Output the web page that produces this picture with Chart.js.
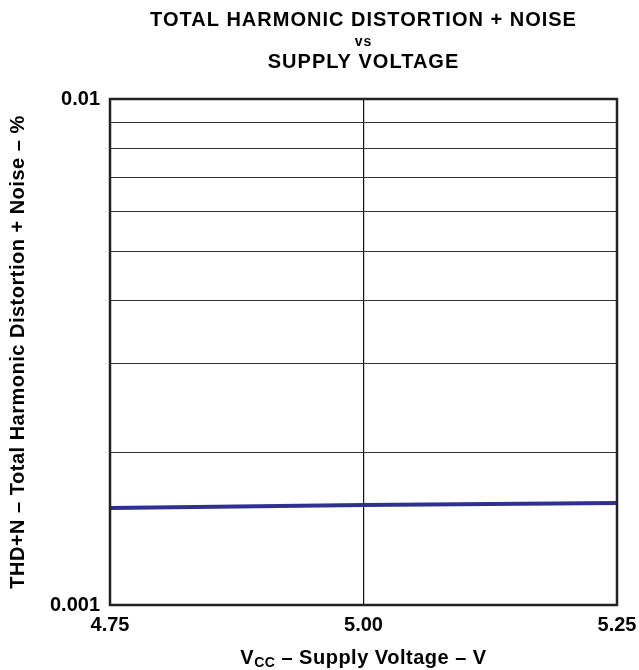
<!DOCTYPE html>
<html>
<head>
<meta charset="utf-8">
<script src="https://cdn.jsdelivr.net/npm/chart.js@4.4.1/dist/chart.umd.min.js"></script>
<style>
  html, body { margin: 0; padding: 0; background: #fff; }
  #wrap { width: 639px; height: 670px; }
</style>
</head>
<body>
<div id="wrap"><canvas id="myChart" width="639" height="670"></canvas></div>
<script>
const voltages = [4.75, 5.00, 5.25];
const thdNoise = [0.001555, 0.001576, 0.00159];
const xTicks = [4.75, 5.00, 5.25];
const yGridLines = [0.001, 0.002, 0.003, 0.004, 0.005, 0.006, 0.007, 0.008, 0.009, 0.01];
const yTickLabels = [0.001, 0.01];
const titleLines = ['TOTAL HARMONIC DISTORTION + NOISE', 'vs', 'SUPPLY VOLTAGE'];

const FONT = '"Liberation Sans", Arial, Helvetica, sans-serif';

// frame, titles and the subscripted x label
const decor = {
  id: 'decor',
  afterDraw(chart) {
    const { ctx, chartArea: a } = chart;
    const cx = (a.left + a.right) / 2;
    ctx.save();
    ctx.strokeStyle = '#222';
    ctx.lineWidth = 2.5;
    ctx.strokeRect(a.left, a.top, a.right - a.left, a.bottom - a.top);

    ctx.fillStyle = '#000';
    ctx.textAlign = 'center';
    ctx.textBaseline = 'middle';
    ctx.letterSpacing = '1px';
    ctx.font = 'bold 20px ' + FONT;
    ctx.fillText(titleLines[0], cx, 20);
    ctx.font = 'bold 14px ' + FONT;
    ctx.fillText(titleLines[1], cx, 42);
    ctx.font = 'bold 20px ' + FONT;
    ctx.fillText(titleLines[2], cx, 62);

    // x title: V_CC – Supply Voltage – V
    ctx.letterSpacing = '0.5px';
    const y = 658;
    ctx.textAlign = 'left';
    ctx.font = 'bold 20px ' + FONT;
    const wV = ctx.measureText('V').width;
    const rest = ' \u2013 Supply Voltage \u2013 V';
    const wRest = ctx.measureText(rest).width;
    ctx.font = 'bold 14px ' + FONT;
    const wSub = ctx.measureText('CC').width;
    let x = cx - (wV + wSub + wRest) / 2;
    ctx.font = 'bold 20px ' + FONT;
    ctx.fillText('V', x, y);
    ctx.font = 'bold 14px ' + FONT;
    ctx.fillText('CC', x + wV, y + 5);
    ctx.font = 'bold 20px ' + FONT;
    ctx.fillText(rest, x + wV + wSub, y);

    // y title
    ctx.translate(18, (a.top + a.bottom) / 2);
    ctx.rotate(-Math.PI / 2);
    ctx.textAlign = 'center';
    ctx.fillText('THD+N \u2013 Total Harmonic Distortion + Noise \u2013 %', 0, 0);
    ctx.restore();
  }
};

new Chart(document.getElementById('myChart'), {
  type: 'line',
  data: {
    datasets: [{
      data: voltages.map((v, i) => ({ x: v, y: thdNoise[i] })),
      borderColor: '#2E3192',
      borderWidth: 4,
      pointRadius: 0,
      fill: false,
      tension: 0
    }]
  },
  options: {
    responsive: false,
    animation: false,
    devicePixelRatio: 1,
    layout: { padding: { top: 99, right: 22, left: 0, bottom: 0 } },
    plugins: { legend: { display: false }, tooltip: { enabled: false } },
    scales: {
      x: {
        type: 'linear',
        min: 4.75,
        max: 5.25,
        afterBuildTicks(scale) { scale.ticks = xTicks.map(v => ({ value: v })); },
        afterFit(scale) { scale.height = 65; scale.paddingRight = 0; scale.paddingLeft = 0; },
        ticks: {
          color: '#000',
          font: { family: FONT, size: 20, weight: 'bold' },
          padding: 8,
          maxRotation: 0,
          callback: v => v.toFixed(2)
        },
        grid: {
          drawTicks: false,
          color: ctx => (ctx.tick && ctx.tick.value === 5) ? '#111' : 'rgba(0,0,0,0)',
          lineWidth: 1.2
        },
        border: { display: false }
      },
      y: {
        type: 'logarithmic',
        min: 0.001,
        max: 0.01,
        afterBuildTicks(scale) { scale.ticks = yGridLines.map(v => ({ value: v })); },
        afterFit(scale) { scale.width = 110; },
        ticks: {
          color: '#000',
          font: { family: FONT, size: 20, weight: 'bold' },
          padding: 10,
          autoSkip: false,
          callback: v => yTickLabels.some(t => Math.abs(t - v) < 1e-9) ? String(v) : ''
        },
        grid: { drawTicks: false, color: '#333', lineWidth: 1 },
        border: { display: false }
      }
    }
  },
  plugins: [decor]
});
</script>
</body>
</html>
